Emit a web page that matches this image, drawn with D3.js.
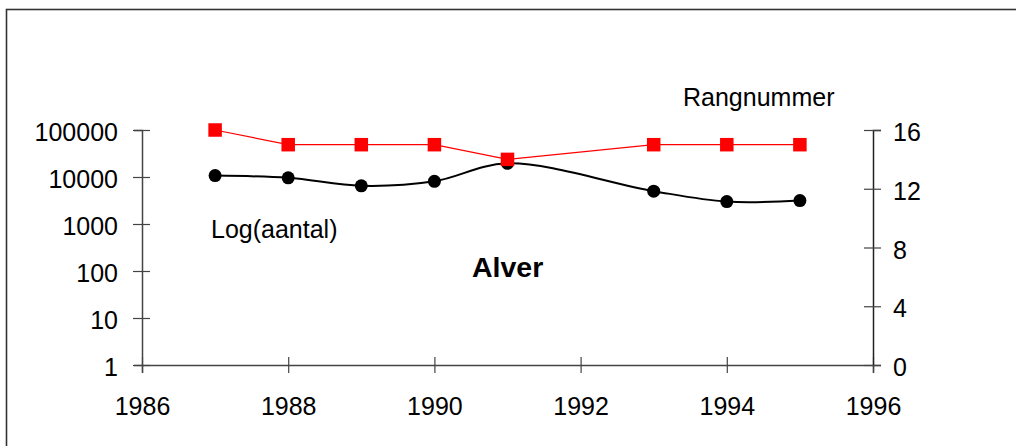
<!DOCTYPE html>
<html><head><meta charset="utf-8">
<script src="https://cdn.jsdelivr.net/npm/d3@7"></script>
<style>
html,body{margin:0;padding:0;background:#fff;}
svg{display:block;font-family:"Liberation Sans",Arial,sans-serif;}
</style></head>
<body>
<svg id="c" width="1016" height="446"></svg>
<script>
// Data
const years = [1987, 1988, 1989, 1990, 1991, 1993, 1994, 1995];
const aantal = [10700, 9600, 6500, 8100, 19500, 5000, 3000, 3150];
const rang = [16, 15, 15, 15, 14, 15, 15, 15];
const xTicks = [1986, 1988, 1990, 1992, 1994, 1996];
const leftTicks = [1, 10, 100, 1000, 10000, 100000];
const rightTicks = [0, 4, 8, 12, 16];

const svg = d3.select("#c");
const L = 142, R = 873, T = 130, B = 365;

svg.append("rect").attr("x", 6.5).attr("y", 9.5).attr("width", 1100).attr("height", 500)
  .attr("fill", "none").attr("stroke", "#333").attr("stroke-width", 1.6);

const x = d3.scaleLinear().domain([1986, 1996]).range([L, R]);
const yL = d3.scaleLog().domain([1, 100000]).range([B, T]);
const yR = d3.scaleLinear().domain([0, 16]).range([B, T]);

const axisColor = "#444";
const fs = 25;

// X axis
const gx = svg.append("g").attr("transform", `translate(0,${B})`)
  .call(d3.axisBottom(x).tickValues(xTicks).tickFormat(d3.format("d")).tickSize(8).tickPadding(0));
gx.select(".domain").attr("stroke", axisColor).attr("stroke-width", 1.5);
gx.selectAll(".tick line").attr("stroke", axisColor).attr("stroke-width", 1.2).attr("y1", -8).attr("y2", 8);
gx.selectAll(".tick text").attr("font-size", fs).attr("fill", "#000").attr("y", 50).attr("dy", 0)
  .attr("font-family", "Liberation Sans, Arial, sans-serif");

// Left axis
const gl = svg.append("g").attr("transform", `translate(${L},0)`)
  .call(d3.axisLeft(yL).tickValues(leftTicks).tickFormat(d3.format("d")).tickSize(8).tickPadding(0));
gl.select(".domain").attr("stroke", axisColor).attr("stroke-width", 1.5);
gl.selectAll(".tick line").attr("stroke", axisColor).attr("stroke-width", 1.2).attr("x1", -9).attr("x2", 8);
gl.selectAll(".tick text").attr("font-size", fs).attr("fill", "#000").attr("x", -24).attr("dy", 10.5)
  .attr("font-family", "Liberation Sans, Arial, sans-serif");

// Right axis
const gr = svg.append("g").attr("transform", `translate(${R},0)`)
  .call(d3.axisRight(yR).tickValues(rightTicks).tickSize(8).tickPadding(0));
gr.select(".domain").attr("stroke", "#222").attr("stroke-width", 1.5);
gr.selectAll(".tick line").attr("stroke", axisColor).attr("stroke-width", 1.2).attr("x1", -9).attr("x2", 8);
gr.selectAll(".tick text").attr("font-size", fs).attr("fill", "#000").attr("x", 20).attr("dy", 10.5)
  .attr("font-family", "Liberation Sans, Arial, sans-serif");

svg.selectAll(".domain").attr("fill", "none");

// Black series (smoothed)
const blackLine = d3.line().x((d, i) => x(years[i])).y(d => yL(d)).curve(d3.curveCatmullRom.alpha(0.5));
svg.append("path").datum(aantal).attr("d", blackLine).attr("fill", "none").attr("stroke", "#000").attr("stroke-width", 2);
svg.selectAll("circle.b").data(aantal).enter().append("circle")
  .attr("cx", (d, i) => x(years[i])).attr("cy", d => yL(d)).attr("r", 6.5).attr("fill", "#000");

// Red series
const redLine = d3.line().x((d, i) => x(years[i])).y(d => yR(d));
svg.append("path").datum(rang).attr("d", redLine).attr("fill", "none").attr("stroke", "#ff0000").attr("stroke-width", 1.2);
const sq = 13.5;
svg.selectAll("rect.r").data(rang).enter().append("rect")
  .attr("x", (d, i) => x(years[i]) - sq / 2).attr("y", d => yR(d) - sq / 2)
  .attr("width", sq).attr("height", sq).attr("fill", "#ff0000");

// Labels
svg.append("text").attr("x", 683).attr("y", 106).attr("font-size", fs).text("Rangnummer");
svg.append("text").attr("x", 211).attr("y", 238).attr("font-size", fs).text("Log(aantal)");
svg.append("text").attr("x", 472).attr("y", 277).attr("font-size", 28.5).attr("font-weight", "bold").text("Alver");
</script>
</body></html>
